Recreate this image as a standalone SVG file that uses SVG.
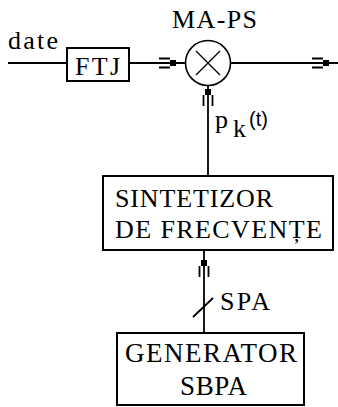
<svg xmlns="http://www.w3.org/2000/svg" xmlns:xlink="http://www.w3.org/1999/xlink" width="338" height="407" viewBox="0 0 338 407">
<style>
.box{fill:#fff;stroke:#000;stroke-width:2}
.ln{fill:none;stroke:#000;stroke-width:1.8}
.t{font-family:"Liberation Serif","Times New Roman",serif;fill:#000;font-size:26px}
.s{font-family:"Liberation Sans",Arial,sans-serif;fill:#000;font-size:20px}
</style>
<defs>
<g id="arr">
<rect x="-6" y="-3" width="6" height="6" fill="#000"/>
<path d="M-17,-4.5H-6M-17,4.5H-6" stroke="#000" stroke-width="1.8" fill="none"/>
</g>
</defs>
<rect width="338" height="407" fill="#fff"/>
<g id="connectors">
<line class="ln" x1="8" y1="63" x2="67" y2="63"/>
<line class="ln" x1="129" y1="63" x2="185.5" y2="63"/>
<line class="ln" x1="230.5" y1="63" x2="338" y2="63"/>
<line class="ln" x1="208" y1="85.5" x2="208" y2="176"/>
<line class="ln" x1="204" y1="250" x2="204" y2="333"/>
<line class="ln" x1="193" y1="317" x2="213" y2="298"/>
<use xlink:href="#arr" transform="translate(176,63)"/>
<use xlink:href="#arr" transform="translate(329,63)"/>
<use xlink:href="#arr" transform="translate(208,89) rotate(-90)"/>
<use xlink:href="#arr" transform="translate(204,260) rotate(-90)"/>
</g>
<text class="t" x="8" y="49" textLength="50" lengthAdjust="spacing">date</text>
<g id="ftj">
<rect class="box" x="67" y="48" width="62" height="33"/>
<text class="t" x="75" y="75" textLength="45" lengthAdjust="spacing">FTJ</text>
</g>
<g id="mixer">
<circle cx="208" cy="63" r="22.5" fill="#fff" stroke="#000" stroke-width="1.6"/>
<path d="M196,51L220,75M220,51L196,75" stroke="#000" stroke-width="1.3" fill="none"/>
<text class="t" x="172" y="28" textLength="85" lengthAdjust="spacing">MA-PS</text>
</g>
<g id="pk-label">
<text class="t" x="215" y="128">p</text>
<text class="t" x="233" y="137">k</text>
<text class="s" x="249" y="126">(t)</text>
</g>
<g id="sintetizor">
<rect class="box" x="103" y="176" width="230" height="74"/>
<text class="t" x="115" y="207" textLength="158" lengthAdjust="spacing">SINTETIZOR</text>
<text class="t" x="115" y="238" textLength="207" lengthAdjust="spacing">DE FRECVENȚE</text>
</g>
<text class="t" x="220" y="310" textLength="50" lengthAdjust="spacing">SPA</text>
<g id="generator">
<rect class="box" x="117" y="333" width="187" height="72"/>
<text class="t" x="125" y="362" textLength="172" lengthAdjust="spacing" style="font-size:27px">GENERATOR</text>
<text class="t" x="180" y="395" textLength="67" lengthAdjust="spacing" style="font-size:27px">SBPA</text>
</g>
</svg>
